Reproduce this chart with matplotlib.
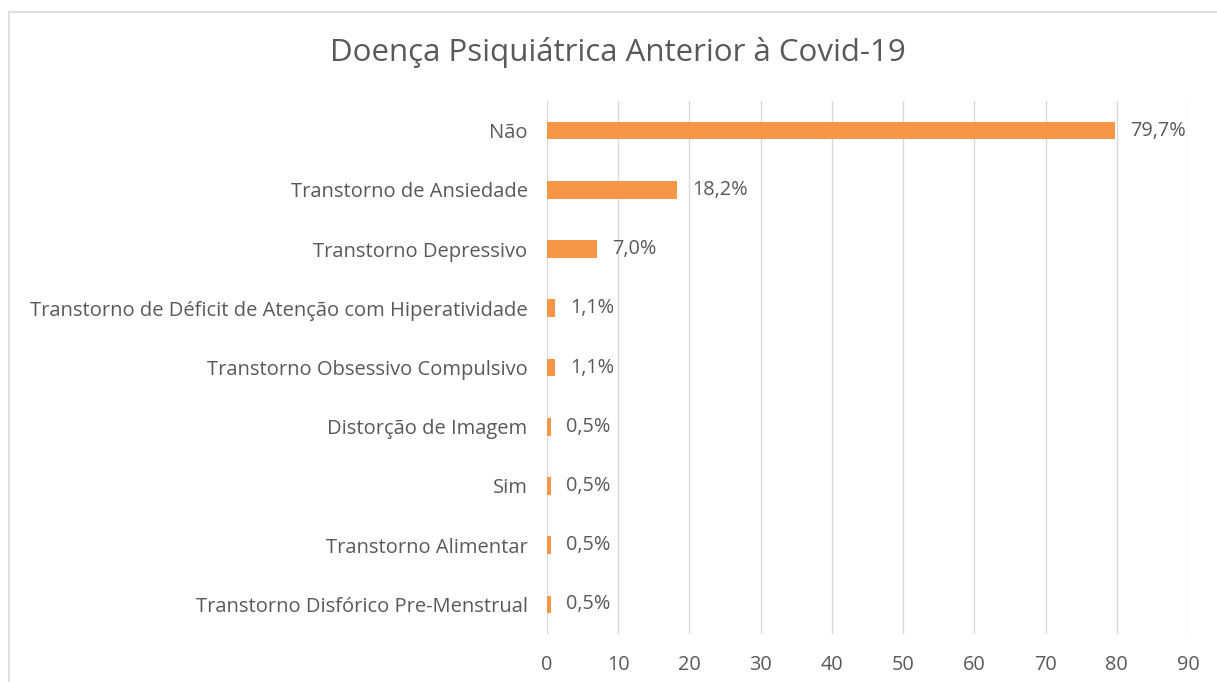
import matplotlib.pyplot as plt
from matplotlib.patches import Rectangle

categories = ['Não', 'Transtorno de Ansiedade', 'Transtorno Depressivo',
              'Transtorno de Déficit de Atenção com Hiperatividade',
              'Transtorno Obsessivo Compulsivo', 'Distorção de Imagem', 'Sim',
              'Transtorno Alimentar', 'Transtorno Disfórico Pre-Menstrual']
values = [79.7, 18.2, 7.0, 1.1, 1.1, 0.5, 0.5, 0.5, 0.5]
labels = ['79,7%', '18,2%', '7,0%', '1,1%', '1,1%', '0,5%', '0,5%', '0,5%', '0,5%']
xticks = [0, 10, 20, 30, 40, 50, 60, 70, 80, 90]

plt.rcParams['font.family'] = ['Open Sans', 'DejaVu Sans']
gray = '#595959'

fig = plt.figure(figsize=(12.17, 6.82), dpi=100)
fig.patches.append(Rectangle((9 / 1217, -0.01), 1.0, 1 - 12 / 682 + 0.01,
                             transform=fig.transFigure, fill=False,
                             edgecolor='#D9D9D9', linewidth=1.2))
ax = fig.add_axes([547 / 1217, 1 - 634 / 682, (1188 - 547) / 1217, (634 - 101) / 682])

y = list(range(len(categories)))
ax.barh(y, values, height=0.3, color='#F79646', zorder=3)
for yi, v, lab in zip(y, values, labels):
    ax.text(v + 2.2, yi, lab, va='center', ha='left', fontsize=14.3, color=gray)

ax.set_xlim(0, 90)
ax.set_ylim(len(categories) - 0.5, -0.5)
ax.set_yticks(y)
ax.set_yticklabels(categories, fontsize=14.5, color=gray)
ax.set_xticks(xticks)
ax.set_xticklabels([str(t) for t in xticks], fontsize=14.3, color=gray)
ax.tick_params(axis='both', length=0)
ax.tick_params(axis='y', pad=14)
ax.tick_params(axis='x', pad=15)
ax.grid(axis='x', color='#D9D9D9', linewidth=1, zorder=0)
for s in ax.spines.values():
    s.set_visible(False)

fig.text(618 / 1217, 1 - 52 / 682, 'Doença Psiquiátrica Anterior à Covid-19',
         ha='center', va='center', fontsize=22.5, color=gray)

plt.savefig('out.png', dpi=100)
